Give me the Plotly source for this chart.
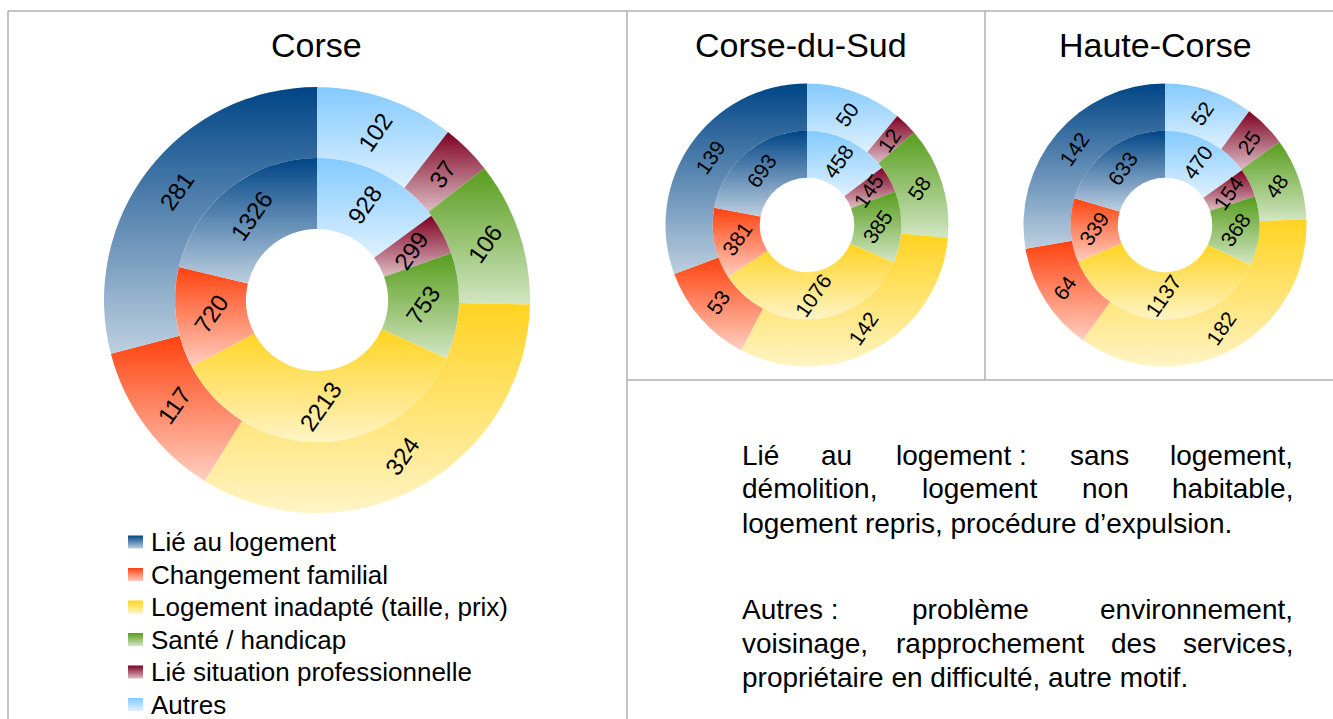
import math
import plotly.graph_objects as go

# ---------------- data ----------------
categories = ["Lié au logement", "Changement familial", "Logement inadapté (taille, prix)",
              "Santé / handicap", "Lié situation professionnelle", "Autres"]
corse_outer = [281, 117, 324, 106, 37, 102]
corse_inner = [1326, 720, 2213, 753, 299, 928]
sud_outer = [139, 53, 142, 58, 12, 50]
sud_inner = [693, 381, 1076, 385, 145, 458]
haute_outer = [142, 64, 182, 48, 25, 52]
haute_inner = [633, 339, 1137, 368, 154, 470]
titles = ["Corse", "Corse-du-Sud", "Haute-Corse"]
colors = ["#004586", "#ff420e", "#ffd320", "#579d1c", "#7e0021", "#83caff"]

note_lines = [
    [("Lié", 741, "left"), ("au", 820, "left"), ("logement :", 895, "left"),
     ("sans", 1069, "left"), ("logement,", 1294, "right")],
    [("démolition,", 741, "left"), ("logement", 921, "left"), ("non", 1081, "left"),
     ("habitable,", 1294, "right")],
    [("logement repris, procédure d’expulsion.", 741, "left")],
    [("Autres :", 741, "left"), ("problème", 911, "left"), ("environnement,", 1294, "right")],
    [("voisinage,", 741, "left"), ("rapprochement", 895, "left"), ("des", 1110, "left"),
     ("services,", 1294, "right")],
    [("propriétaire en difficulté, autre motif.", 741, "left")],
]
note_y = [455, 489, 523, 609, 643, 677]

W, H = 1333, 719
FONT = "Liberation Sans, Arial, sans-serif"


def X(px):
    return px / W


def Y(py):
    return 1 - py / H


def dom(cx, cy, r):
    return dict(x=[X(cx - r), X(cx + r)], y=[Y(cy + r), Y(cy - r)])


charts = [
    dict(title=titles[0], tx=316, cx=317, cy=300, r=213, outer=corse_outer, inner=corse_inner, fs=24),
    dict(title=titles[1], tx=801, cx=807, cy=225, r=141.5, outer=sud_outer, inner=sud_inner, fs=21),
    dict(title=titles[2], tx=1155, cx=1165, cy=225, r=141.5, outer=haute_outer, inner=haute_inner, fs=21),
]

fig = go.Figure()
annotations = []
for ch in charts:
    cx, cy, r = ch["cx"], ch["cy"], ch["r"]
    r_mid_ring = r * 2 / 3
    r_hole = r / 3
    for vals, rad, hole, rlab in [
        (ch["outer"], r, 2 / 3, (r + r_mid_ring) / 2),
        (ch["inner"], r_mid_ring, 0.5, (r_mid_ring + r_hole) / 2),
    ]:
        # slices run counterclockwise from 12 o'clock in legend order;
        # drawn clockwise with the order reversed
        fig.add_trace(go.Pie(
            values=vals[::-1], labels=categories[::-1], hole=hole, sort=False,
            direction="clockwise", rotation=0,
            marker=dict(colors=colors[::-1], line=dict(width=0)),
            textinfo="none", hoverinfo="skip", showlegend=False,
            domain=dom(cx, cy, rad),
        ))
        total = sum(vals)
        cum = 0
        for v in vals:
            phi = 2 * math.pi * (cum + v / 2) / total
            cum += v
            px = cx - rlab * math.sin(phi)
            py = cy - rlab * math.cos(phi)
            annotations.append(dict(
                x=X(px), y=Y(py), xref="paper", yref="paper", text=str(v),
                showarrow=False, textangle=-55, xanchor="center", yanchor="middle",
                font=dict(family=FONT, size=ch["fs"], color="black"),
            ))
    annotations.append(dict(
        x=X(ch["tx"]), y=Y(45), xref="paper", yref="paper", text=ch["title"],
        showarrow=False, xanchor="center", yanchor="middle",
        font=dict(family=FONT, size=34, color="black"),
    ))

# legend (manual)
shapes = []
leg_y0, leg_dy = 542, 32.5
for i, (cat, col) in enumerate(zip(categories, colors)):
    yc = leg_y0 + i * leg_dy
    shapes.append(dict(type="rect", xref="paper", yref="paper",
                       x0=X(128), x1=X(143), y0=Y(yc + 6.5), y1=Y(yc - 6.5),
                       fillcolor=col, line=dict(width=0)))
    annotations.append(dict(
        x=X(150), y=Y(yc), xref="paper", yref="paper", text=cat, showarrow=False,
        xanchor="left", yanchor="middle", borderpad=0,
        font=dict(family=FONT, size=26, color="black"),
    ))

# notes text
for words, yc in zip(note_lines, note_y):
    for w, xp, anc in words:
        annotations.append(dict(
            x=X(xp), y=Y(yc), xref="paper", yref="paper", text=w, showarrow=False,
            xanchor=anc, yanchor="middle", borderpad=0,
            font=dict(family=FONT, size=28, color="black"),
        ))

# panel borders
line_col = "#b0b0b0"
for (x0, y0, x1, y1) in [(8, 11, 1333, 11), (8, 11, 8, 719), (627, 11, 627, 719),
                         (985, 11, 985, 380), (627, 380, 1333, 380)]:
    shapes.append(dict(type="line", xref="paper", yref="paper",
                       x0=X(x0), y0=Y(y0), x1=X(x1), y1=Y(y1),
                       line=dict(color=line_col, width=1.5)))

fig.update_layout(
    width=W, height=H, margin=dict(l=0, r=0, t=0, b=0),
    paper_bgcolor="white", plot_bgcolor="white",
    annotations=annotations, shapes=shapes, showlegend=False,
)


def hex_rgb(h):
    h = h.lstrip("#")
    return tuple(int(h[i:i + 2], 16) for i in (0, 2, 4))


ramps = {}
for c in colors:
    r_, g_, b_ = hex_rgb(c)
    k = 0.74
    light = tuple(int(round(v + k * (255 - v))) for v in (r_, g_, b_))
    ramps["rgb(%d, %d, %d)" % (r_, g_, b_)] = ["rgb(%d,%d,%d)" % (r_, g_, b_), "rgb(%d,%d,%d)" % light]

ramp_js = "{" + ",".join('"%s":["%s","%s"]' % (k, v[0], v[1]) for k, v in ramps.items()) + "}"

post = """
document.body.style.margin = '0';
document.body.style.padding = '0';
document.body.style.overflow = 'hidden';
var gd = document.getElementById('{plot_id}');
var ramps = RAMPS;
var ns = 'http://www.w3.org/2000/svg';
var keys = Object.keys(ramps);
var svgs = gd.querySelectorAll('svg.main-svg');
for (var s = 0; s < svgs.length; s++) {
  var svg = svgs[s];
  var defs = document.createElementNS(ns, 'defs');
  svg.insertBefore(defs, svg.firstChild);
  for (var k = 0; k < keys.length; k++) {
    var g = document.createElementNS(ns, 'linearGradient');
    g.setAttribute('id', 'rg_' + s + '_' + k);
    g.setAttribute('x1', '0'); g.setAttribute('y1', '0');
    g.setAttribute('x2', '0'); g.setAttribute('y2', '1');
    var cols = ramps[keys[k]];
    for (var j = 0; j < 2; j++) {
      var st = document.createElementNS(ns, 'stop');
      st.setAttribute('offset', j === 0 ? '0' : '1');
      st.setAttribute('stop-color', cols[j]);
      g.appendChild(st);
    }
    defs.appendChild(g);
  }
  var paths = svg.querySelectorAll('path');
  for (var p = 0; p < paths.length; p++) {
    var f = paths[p].style.fill;
    var idx = keys.indexOf(f);
    if (idx >= 0) { paths[p].style.fill = 'url(#rg_' + s + '_' + idx + ')'; }
  }
}
""".replace("RAMPS", ramp_js)

fig.write_html("out.html", post_script=post, config={"staticPlot": True})
